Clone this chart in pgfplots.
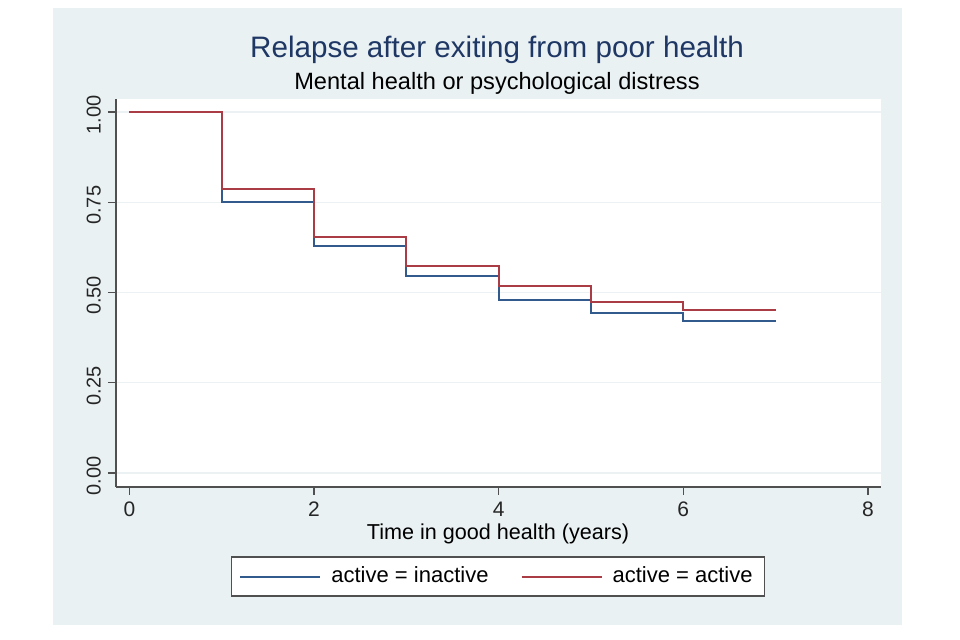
\documentclass[border=0pt]{standalone}
\usepackage{pgfplots}
\pgfplotsset{compat=1.18}
\usepackage{fontspec}
\setmainfont{Liberation Sans}

\definecolor{panel}{RGB}{234,241,243}
\definecolor{gridc}{RGB}{236,242,244}
\definecolor{axisgray}{RGB}{80,80,80}
\definecolor{titlec}{RGB}{30,55,100}
\definecolor{sblue}{RGB}{50,90,140}
\definecolor{sred}{RGB}{170,60,70}

\begin{document}
\begin{tikzpicture}
% page and graph region (1px = 0.5pt, origin at plot corner)
\fill[white] (-58pt,-76.5pt) rectangle (422pt,243.5pt);
\fill[panel] (-31.5pt,-69pt) rectangle (393pt,239.5pt);
\begin{axis}[
    at={(0pt,0pt)}, anchor=south west,
    scale only axis,
    width=382.5pt, height=194pt,
    xmin=-0.146, xmax=8.142,
    ymin=-0.0388, ymax=1.036,
    axis x line*=bottom, axis y line*=left,
    axis line style={-, draw=axisgray, line width=0.8pt},
    axis background/.style={fill=white},
    xtick={0,2,4,6,8},
    ytick={0,0.25,0.5,0.75,1},
    tick align=outside,
    major tick length=4pt,
    tick style={axisgray, line width=0.6pt},
    ymajorgrids,
    grid style={gridc, line width=0.7pt},
    /pgf/number format/assume math mode=true,
    yticklabel style={/pgf/number format/.cd, fixed, fixed zerofill, precision=2,
        /tikz/.cd, rotate=90, anchor=south, xshift=-1.5pt,
        font=\fontsize{10}{12}\selectfont, text=black!85},
    xticklabel style={font=\fontsize{10.5}{12}\selectfont, text=black!85},
    legend columns=2,
    legend style={at={(0.4993,-0.2307)}, anchor=center, draw=axisgray, fill=white,
        line width=0.6pt, font=\fontsize{11}{13}\selectfont,
        inner xsep=4pt, inner ysep=3pt,
        /tikz/every odd column/.append style={column sep=3pt},
        /tikz/every even column/.append style={column sep=14pt}},
    legend image code/.code={\draw[#1, line width=1pt] (0pt,0pt) -- (40pt,0pt);},
]
\addplot[const plot, sblue, line width=1pt] coordinates {
    (0,1) (1,0.751) (2,0.629) (3,0.546) (4,0.479) (5,0.442) (6,0.422) (7,0.422)
};
\addlegendentry{active = inactive}
\addplot[const plot, sred, line width=1pt] coordinates {
    (0,1) (1,0.788) (2,0.655) (3,0.574) (4,0.517) (5,0.475) (6,0.451) (7,0.451)
};
\addlegendentry{active = active}
\end{axis}
\node[anchor=base, text=titlec, font=\fontsize{14.8}{16}\selectfont] at (190.5pt,214.5pt) {Relapse after exiting from poor health};
\node[anchor=base, font=\fontsize{11.8}{14}\selectfont] at (190.5pt,198.5pt) {Mental health or psychological distress};
\node[anchor=base, font=\fontsize{10.8}{13}\selectfont] at (191pt,-26.5pt) {Time in good health (years)};
\end{tikzpicture}
\end{document}
